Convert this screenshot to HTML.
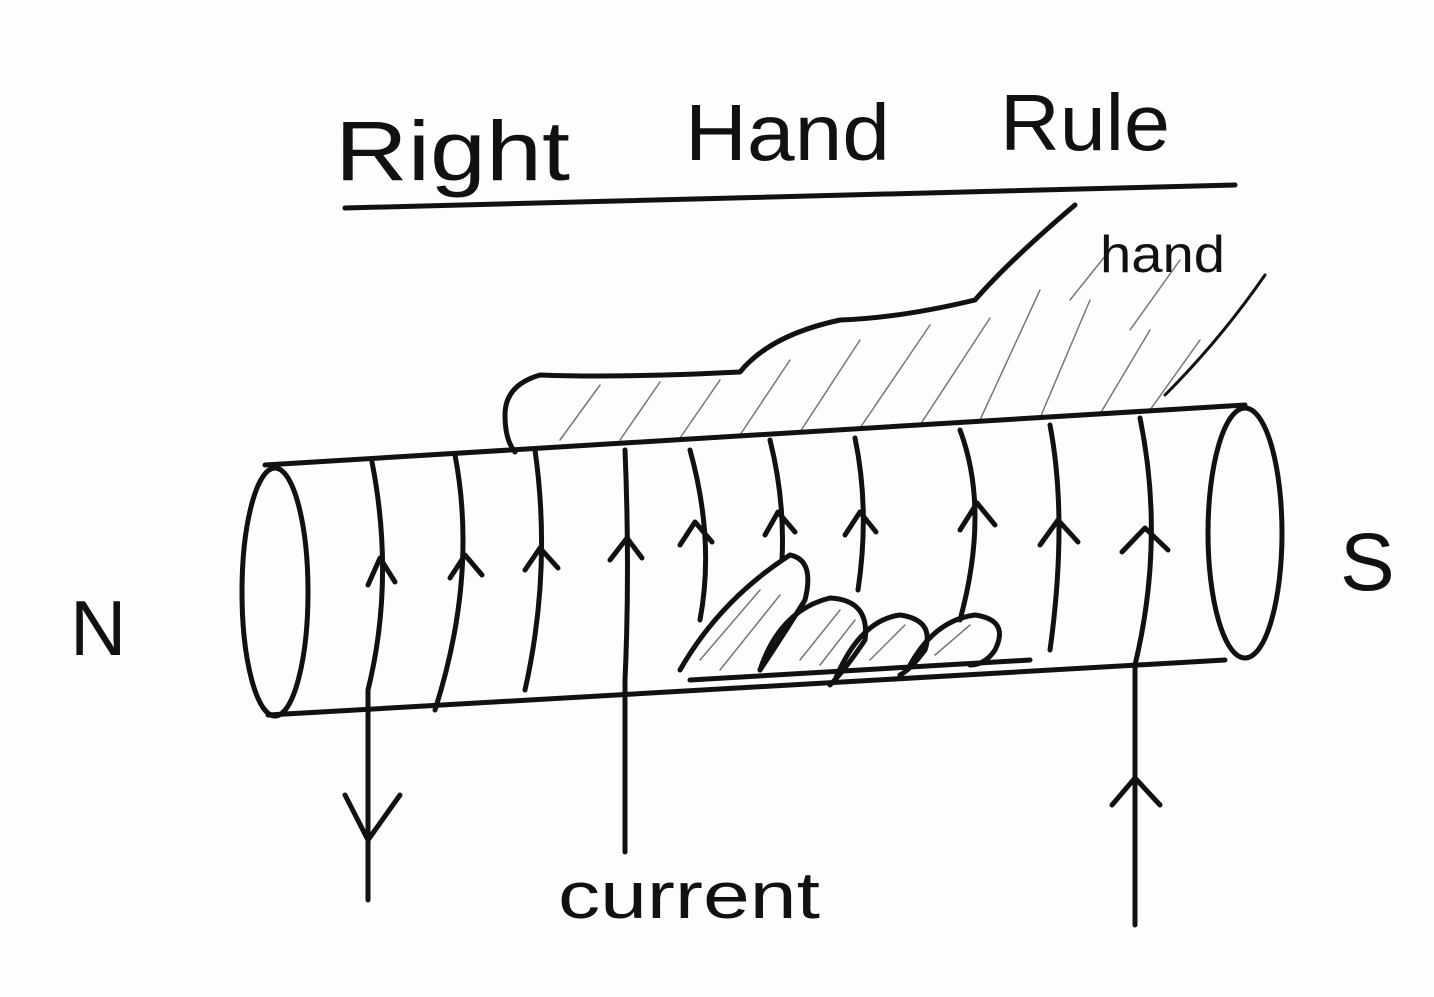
<!DOCTYPE html>
<html><head><meta charset="utf-8"><style>
html,body{margin:0;padding:0;background:#fff;}
svg{display:block}
text{font-family:"Liberation Sans",sans-serif;fill:#111}
</style></head><body>
<svg width="1434" height="997" viewBox="0 0 1434 997" xmlns="http://www.w3.org/2000/svg">
<rect width="1434" height="997" fill="#fdfdfd"/>
<g fill="none" stroke="#111" stroke-width="5" stroke-linecap="round" stroke-linejoin="round">
<path d="M345 208 Q800 195 1235 185"/>
<path d="M1075 205 Q1010 260 975 300 Q900 318 840 320 Q770 335 740 372 Q620 378 540 375 Q505 385 505 415 Q505 440 515 452" />
<path d="M1265 275 Q1220 340 1165 395" stroke-width="3"/>
<g stroke="#777" stroke-width="1.5">
<path d="M560 440 L600 385 M620 440 L660 382 M680 438 L720 380 M740 435 L790 360 M800 432 L860 340 M860 428 L930 325 M920 425 L990 318 M980 420 L1040 290 M1040 418 L1090 300 M1100 414 L1150 330 M1150 410 L1200 340 M1070 300 L1110 250 M1130 330 L1180 260"/>
</g>
<path d="M265 465 L1245 405"/>
<path d="M268 715 L1225 660"/>
<ellipse cx="275" cy="592" rx="33" ry="124"/>
<ellipse cx="1245" cy="533" rx="37" ry="125"/>
<path d="M372 462 Q395 580 368 690"/>
<path d="M455 455 Q478 575 435 710"/>
<path d="M535 450 Q552 570 525 690"/>
<path d="M625 450 Q630 570 625 680"/>
<path d="M690 450 Q715 540 700 620"/>
<path d="M770 440 Q785 500 782 560"/>
<path d="M855 438 Q870 510 858 590"/>
<path d="M960 430 Q990 510 960 620"/>
<path d="M1050 425 Q1068 520 1050 650"/>
<path d="M1140 418 Q1165 540 1135 665"/>
<path d="M368 585 L380 558 L395 582"/>
<path d="M450 578 L465 555 L482 575"/>
<path d="M525 570 L540 548 L558 568"/>
<path d="M610 560 L627 538 L642 558"/>
<path d="M680 545 L695 522 L712 542"/>
<path d="M765 535 L778 512 L795 532"/>
<path d="M845 535 L860 512 L876 532"/>
<path d="M960 530 L977 503 L995 525"/>
<path d="M1040 545 L1058 520 L1078 542"/>
<path d="M1122 552 L1145 528 L1168 550"/>
<path d="M680 670 Q720 600 790 555 Q815 560 805 600 Q780 640 760 670"/>
<path d="M760 670 Q780 610 830 598 Q870 600 865 640 Q845 670 830 685"/>
<path d="M835 680 Q860 620 900 615 Q935 620 925 650 Q910 670 900 675"/>
<path d="M910 665 Q935 620 975 615 Q1010 620 995 650 Q985 665 970 665"/>
<path d="M690 680 L1030 660"/>
<g stroke="#777" stroke-width="1.5">
<path d="M700 660 L760 590 M720 670 L780 595 M800 660 L840 610 M820 665 L855 620 M870 660 L905 625 M935 655 L970 625"/>
</g>
<path d="M368 690 L368 900"/>
<path d="M345 795 L368 840 L400 795"/>
<path d="M625 680 L625 852"/>
<path d="M1135 665 L1135 925"/>
<path d="M1112 805 L1135 778 L1160 805"/>
</g>
<text x="335" y="180" font-size="84" textLength="235" lengthAdjust="spacingAndGlyphs">Right</text>
<text x="685" y="160" font-size="80" textLength="205" lengthAdjust="spacingAndGlyphs">Hand</text>
<text x="1000" y="150" font-size="80" textLength="170" lengthAdjust="spacingAndGlyphs">Rule</text>
<text x="1100" y="272" font-size="52" textLength="125" lengthAdjust="spacingAndGlyphs">hand</text>
<text x="70" y="655" font-size="78">N</text>
<text x="1340" y="590" font-size="82">S</text>
<text x="558" y="918" font-size="66" textLength="262" lengthAdjust="spacingAndGlyphs">current</text>
</svg>
</body></html>
